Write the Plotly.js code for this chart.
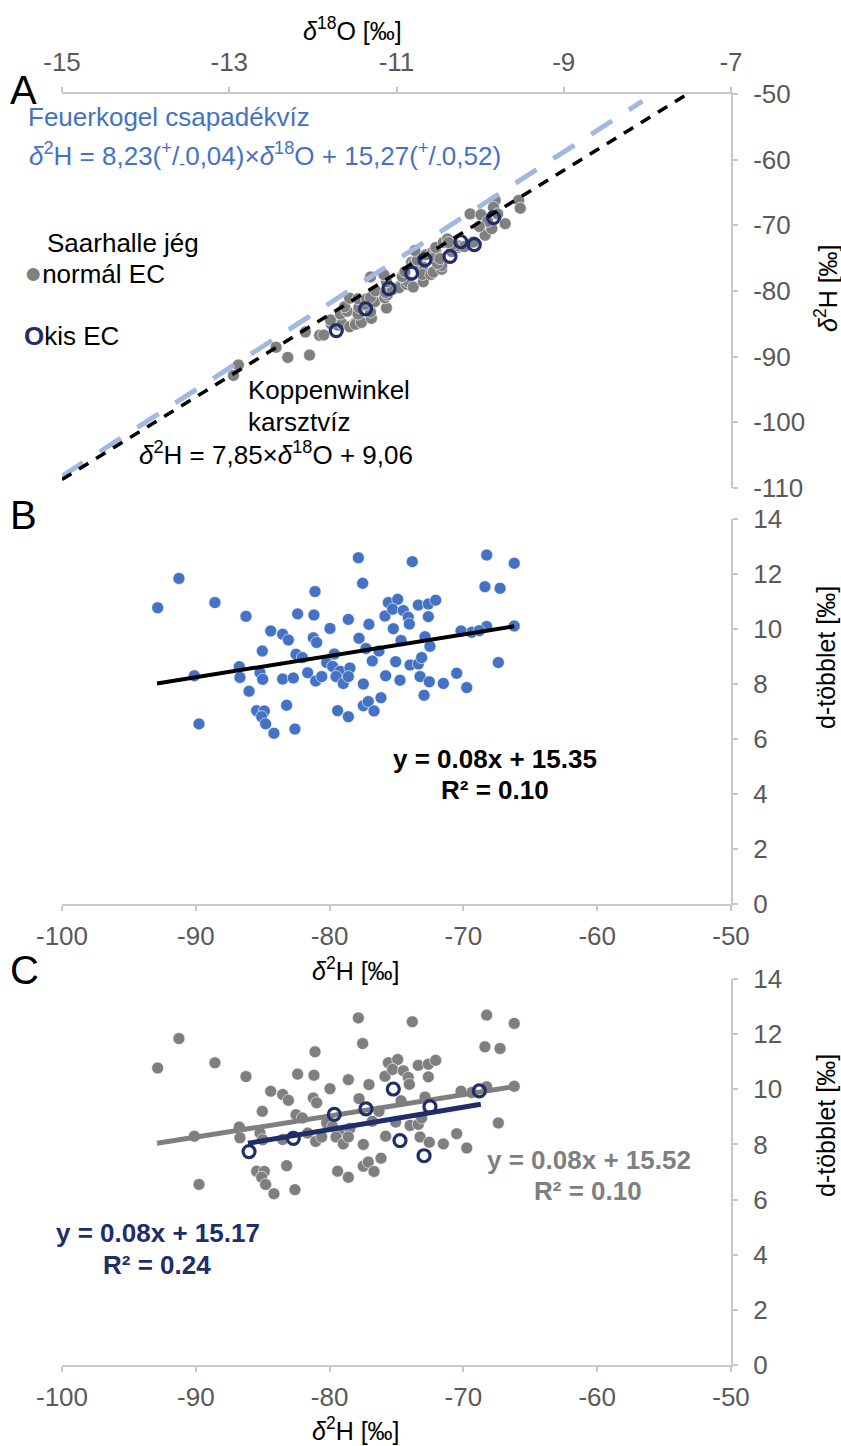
<!DOCTYPE html>
<html><head><meta charset="utf-8">
<script src="https://cdn.plot.ly/plotly-3.0.1.min.js"></script>
<style>body{margin:0;background:#fff}</style>
</head><body><div id="chart" style="width:841px;height:1446px"></div>
<script>
// ---- Data ----
// normal EC samples: δ2H [‰], d-excess [‰], δ18O [‰]
const normalH = [-92.85,-91.26,-90.11,-89.76,-88.57,-86.25,-86.75,-86.70,-85.03,-85.20,
 -85.00,-85.45,-84.88,-85.08,-84.78,-84.16,-84.40,-83.51,-83.08,-83.51,
 -83.21,-82.59,-82.39,-82.51,-82.04,-81.64,-81.09,-81.17,-81.22,-80.97,
 -81.04,-80.59,-79.97,-80.22,-79.77,-79.22,-78.48,-79.52,-78.98,-78.60,
 -79.40,-78.60,-78.60,-77.85,-77.53,-77.80,-77.06,-76.81,-76.31,-77.48,
 -77.48,-77.11,-76.68,-76.16,-75.81,-75.61,-74.91,-75.86,-75.29,-74.49,
 -74.12,-74.04,-74.66,-75.06,-73.99,-73.37,-73.12,-73.24,-72.55,-71.50,
 -72.87,-73.37,-72.62,-72.07,-72.62,-70.50,-73.82,-68.26,-66.20,-68.39,
 -67.26,-66.20,-68.26,-69.38,-70.18,-67.39,-69.75];
const normalD = [10.77,11.84,8.30,6.55,10.96,10.46,8.63,8.24,9.20,8.41,
 8.17,7.03,7.02,6.81,6.55,6.21,9.93,9.81,9.60,8.18,
 7.23,6.36,10.55,9.08,8.96,8.41,11.36,10.51,9.68,9.51,
 8.11,8.27,10.02,8.78,8.64,8.46,8.58,8.27,8.02,8.27,
 7.03,6.81,10.35,12.59,11.66,9.66,10.17,8.84,9.20,8.00,
 7.21,7.36,7.02,7.50,8.30,10.96,11.08,10.47,10.72,10.67,
 10.43,10.18,9.58,8.81,8.69,8.73,8.96,8.27,8.08,8.02,
 9.72,10.87,10.91,11.05,10.45,8.39,12.45,12.69,12.39,11.54,
 11.48,10.11,10.09,9.88,9.93,8.78,7.87];
const normalO = [-12.95,-12.89,-12.30,-12.04,-12.44,-12.09,-11.92,-11.87,-11.78,-11.70,
 -11.65,-11.56,-11.49,-11.49,-11.42,-11.30,-11.79,-11.67,-11.59,-11.46,
 -11.31,-11.12,-11.62,-11.45,-11.38,-11.26,-11.56,-11.46,-11.36,-11.31,
 -11.14,-11.11,-11.25,-11.13,-11.05,-10.96,-10.88,-10.97,-10.88,-10.86,
 -10.80,-10.68,-11.12,-11.31,-11.15,-10.93,-10.90,-10.71,-10.69,-10.69,
 -10.59,-10.56,-10.46,-10.46,-10.51,-10.82,-10.75,-10.79,-10.75,-10.65,
 -10.57,-10.53,-10.53,-10.48,-10.34,-10.26,-10.26,-10.19,-10.08,-9.94,
 -10.32,-10.53,-10.44,-10.39,-10.38,-9.86,-10.78,-10.12,-9.82,-9.99,
 -9.84,-9.54,-9.79,-9.91,-10.01,-9.52,-9.70];
// kis EC samples
const kisH = [-86.02,-82.71,-79.65,-77.28,-75.24,-74.74,-72.94,-72.50,-68.81];
const kisD = [7.74,8.22,9.09,9.29,10.01,8.14,7.59,9.37,9.94];
const kisO = [-11.72,-11.37,-11.09,-10.82,-10.66,-10.36,-10.07,-10.23,-9.84];
// reference lines (panel A)
const feuerO = [-15, -8.06], feuerH = [-108.2, -51.1];
const koppO = [-15, -7.52], koppH = [-108.7, -50];
// trend lines (panels B, C)
const trendAllH = [-92.9, -66.2], trendAllD = [8.02, 10.10];
const trendNormH = [-92.9, -66.2], trendNormD = [8.04, 10.10];
const trendKisH = [-86.1, -68.7], trendKisD = [8.04, 9.46];
// ticks
const xTicksA = [-15,-13,-11,-9,-7];
const yTicksA = [-110,-100,-90,-80,-70,-60,-50];
const xTicksBC = [-100,-90,-80,-70,-60,-50];
const yTicksBC = [0,2,4,6,8,10,12,14];
const lbl = a => a.map(v => String(v));

// ---- Styling ----
const F = 'Liberation Sans, Arial, sans-serif';
const GRAY = '#7f7f7f', NAVY = '#1f2d6b', BLUE = '#4472c4';
const FS = 26;
const W = 841, H = 1446, L = 62, R = 110, T = 94, B = 81;
const pw = W - L - R, ph = H - T - B;
const fx = x => (x - L) / pw, fy = y => (H - B - y) / ph;

const dotMarker = c => ({color:c, size:12, line:{color:'#ffffff', width:0.6}});
const ringMarker = {symbol:'circle-open', color:NAVY, size:12, line:{width:3.2}};

const traces = [
  // Panel A
  {x: normalO, y: normalH, xaxis:'x', yaxis:'y', mode:'markers', type:'scatter', marker:dotMarker(GRAY)},
  {x: kisO, y: kisH, xaxis:'x', yaxis:'y', mode:'markers', type:'scatter', marker:ringMarker},
  {x: feuerO, y: feuerH, xaxis:'x', yaxis:'y', mode:'lines', type:'scatter',
   line:{color:'#a3b8df', width:5, dash:'25px,20px'}},
  {x: koppO, y: koppH, xaxis:'x', yaxis:'y', mode:'lines', type:'scatter',
   line:{color:'#000000', width:3.5, dash:'11px,9px'}},
  // Panel B
  {x: normalH, y: normalD, xaxis:'x2', yaxis:'y2', mode:'markers', type:'scatter', marker:dotMarker(BLUE)},
  {x: kisH, y: kisD, xaxis:'x2', yaxis:'y2', mode:'markers', type:'scatter', marker:dotMarker(BLUE)},
  {x: trendAllH, y: trendAllD, xaxis:'x2', yaxis:'y2', mode:'lines', type:'scatter',
   line:{color:'#000000', width:4}},
  // Panel C
  {x: normalH, y: normalD, xaxis:'x3', yaxis:'y3', mode:'markers', type:'scatter', marker:dotMarker(GRAY)},
  {x: trendNormH, y: trendNormD, xaxis:'x3', yaxis:'y3', mode:'lines', type:'scatter',
   line:{color:GRAY, width:5}},
  {x: trendKisH, y: trendKisD, xaxis:'x3', yaxis:'y3', mode:'lines', type:'scatter',
   line:{color:NAVY, width:5}},
  {x: kisH, y: kisD, xaxis:'x3', yaxis:'y3', mode:'markers', type:'scatter', marker:ringMarker}
];

const axBase = {showline:true, linecolor:'#c8c8c8', linewidth:2, ticks:'outside', ticklen:5,
  tickwidth:2, tickcolor:'#c8c8c8', showgrid:false, zeroline:false, fixedrange:true,
  tickfont:{family:F, size:FS, color:'#595959'}, tickmode:'array'};
const ovBase = {showline:false, ticks:'inside', ticklen:5, tickwidth:2, tickcolor:'#c8c8c8',
  showgrid:false, zeroline:false, showticklabels:false, fixedrange:true, tickmode:'array'};

const domA = [fy(488), 1], domB = [fy(904), fy(519)], domC = [0, fy(979)];

function ann(text, x, y, opts) {
  return Object.assign({text: text, x: fx(x), y: fy(y), xref:'paper', yref:'paper',
    showarrow:false, xanchor:'left', yanchor:'middle',
    font:{family:F, size:FS, color:'#000000'}}, opts || {});
}
const d = '<i>δ</i>';
const big = {family:F, size:40, color:'#000'};
const tf = {family:F, size:25, color:'#000'};
const annotations = [
  ann('A', 8, 90, {font:big}),
  ann('B', 8, 515, {font:big}),
  ann('C', 8, 970, {font:big}),
  ann(d + '<sup>18</sup>O [‰]', 352, 29, {xanchor:'center', font:tf}),
  ann(d + '<sup>2</sup>H [‰]', 826, 288, {xanchor:'center', textangle:-90, font:tf}),
  ann('d-többlet [‰]', 826, 657, {xanchor:'center', textangle:-90, font:tf}),
  ann('d-többlet [‰]', 826, 1125, {xanchor:'center', textangle:-90, font:tf}),
  ann(d + '<sup>2</sup>H [‰]', 356, 969, {xanchor:'center', font:tf}),
  ann(d + '<sup>2</sup>H [‰]', 356, 1429, {xanchor:'center', font:tf}),
  ann('Feuerkogel csapadékvíz', 26, 117, {font:{family:F, size:FS, color:BLUE}}),
  ann(d + '<sup>2</sup>H = 8,23(<sup>+</sup>/<sub>-</sub>0,04)×' + d + '<sup>18</sup>O + 15,27(<sup>+</sup>/<sub>-</sub>0,52)',
      27, 156, {font:{family:F, size:FS, color:BLUE}}),
  ann('Saarhalle jég', 45, 243),
  ann('<span style="color:' + GRAY + ';font-size:30px">●</span>normál EC', 22, 272),
  ann('<span style="color:' + NAVY + '"><b>O</b></span>kis EC', 22, 336),
  ann('Koppenwinkel', 246, 390),
  ann('karsztvíz', 246, 422),
  ann(d + '<sup>2</sup>H = 7,85×' + d + '<sup>18</sup>O + 9,06', 137, 453),
  ann('<b>y = 0.08x + 15.35</b>', 495, 759, {xanchor:'center'}),
  ann('<b>R² = 0.10</b>', 495, 790, {xanchor:'center'}),
  ann('<b>y = 0.08x + 15.52</b>', 589, 1160, {xanchor:'center', font:{family:F, size:FS, color:GRAY}}),
  ann('<b>R² = 0.10</b>', 588, 1191, {xanchor:'center', font:{family:F, size:FS, color:GRAY}}),
  ann('<b>y = 0.08x + 15.17</b>', 158, 1233, {xanchor:'center', font:{family:F, size:FS, color:NAVY}}),
  ann('<b>R² = 0.24</b>', 157, 1265, {xanchor:'center', font:{family:F, size:FS, color:NAVY}})
];

const layout = {
  width: W, height: H, showlegend: false,
  paper_bgcolor:'#ffffff', plot_bgcolor:'#ffffff',
  margin:{l:L, r:R, t:T, b:B, pad:0},
  xaxis: Object.assign({}, axBase, {domain:[0,1], anchor:'y', side:'top', range:[-15,-7],
    tickvals:xTicksA, ticktext:lbl(xTicksA), ticklabelstandoff:6}),
  yaxis: Object.assign({}, axBase, {domain:domA, anchor:'x', side:'right', range:[-110,-50],
    tickvals:yTicksA, ticktext:lbl(yTicksA), ticklabelstandoff:10}),
  xaxis2: Object.assign({}, axBase, {domain:[0,1], anchor:'y2', side:'bottom', range:[-100,-50],
    tickvals:xTicksBC, ticktext:lbl(xTicksBC), ticklabelstandoff:3}),
  yaxis2: Object.assign({}, axBase, {domain:domB, anchor:'x2', side:'right', range:[0,14],
    tickvals:yTicksBC, ticktext:lbl(yTicksBC), ticklabelstandoff:10}),
  xaxis3: Object.assign({}, axBase, {domain:[0,1], anchor:'y3', side:'bottom', range:[-100,-50],
    tickvals:xTicksBC, ticktext:lbl(xTicksBC), ticklabelstandoff:3}),
  yaxis3: Object.assign({}, axBase, {domain:domC, anchor:'x3', side:'right', range:[0,14],
    tickvals:yTicksBC, ticktext:lbl(yTicksBC), ticklabelstandoff:10}),
  // overlay axes: inner half of the crossing tick marks
  xaxis4: Object.assign({}, ovBase, {overlaying:'x', anchor:'y', side:'top', range:[-15,-7], tickvals:xTicksA}),
  yaxis4: Object.assign({}, ovBase, {overlaying:'y', anchor:'x', side:'right', range:[-110,-50], tickvals:yTicksA}),
  xaxis5: Object.assign({}, ovBase, {overlaying:'x2', anchor:'y2', side:'bottom', range:[-100,-50], tickvals:xTicksBC}),
  yaxis5: Object.assign({}, ovBase, {overlaying:'y2', anchor:'x2', side:'right', range:[0,14], tickvals:yTicksBC}),
  xaxis6: Object.assign({}, ovBase, {overlaying:'x3', anchor:'y3', side:'bottom', range:[-100,-50], tickvals:xTicksBC}),
  yaxis6: Object.assign({}, ovBase, {overlaying:'y3', anchor:'x3', side:'right', range:[0,14], tickvals:yTicksBC}),
  annotations: annotations
};

Plotly.newPlot('chart', traces, layout, {staticPlot:true, displayModeBar:false});
</script></body></html>
